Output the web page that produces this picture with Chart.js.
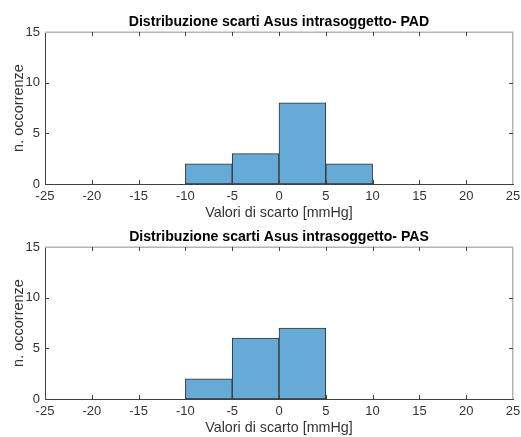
<!DOCTYPE html>
<html><head><meta charset="utf-8">
<script src="https://cdn.jsdelivr.net/npm/chart.js@4"></script>
<style>
html,body{margin:0;padding:0;background:#fff;}
#wrap{position:relative;width:521px;height:437px;overflow:hidden;background:#fff;}
canvas{position:absolute;left:0;}
</style>
</head><body>
<div id="wrap">
<canvas id="c1" width="521" height="222" style="top:0px"></canvas>
<canvas id="c2" width="521" height="222" style="top:215px"></canvas>
</div>
<script>
// ---- data ----
const padTitle = 'Distribuzione scarti Asus intrasoggetto- PAD';
const pasTitle = 'Distribuzione scarti Asus intrasoggetto- PAS';
const padBinCenters = [-7.5, -2.5, 2.5, 7.5];
const padCounts = [2, 3, 8, 2];
const pasBinCenters = [-7.5, -2.5, 2.5];
const pasCounts = [2, 6, 7];
const xTickValues = [-25, -20, -15, -10, -5, 0, 5, 10, 15, 20, 25];
const yTickValues = [0, 5, 10, 15];
const xLabel = 'Valori di scarto [mmHg]';
const yLabel = 'n. occorrenze';

const FONT = '"Liberation Sans", Arial, Helvetica, sans-serif';
const TICK_LEN = 4;

const framePlugin = {
  id: 'frame',
  afterDraw(chart) {
    const {ctx, chartArea: a, scales: {x, y}} = chart;
    ctx.save();
    // top and right box lines
    ctx.strokeStyle = '#b4b4b4';
    ctx.lineWidth = 1.5;
    ctx.beginPath();
    ctx.moveTo(a.left, a.top + 0.25);
    ctx.lineTo(a.right - 0.25, a.top + 0.25);
    ctx.lineTo(a.right - 0.25, a.bottom);
    ctx.stroke();
    // inward tick marks
    ctx.strokeStyle = '#404040';
    ctx.lineWidth = 1;
    ctx.beginPath();
    x.ticks.forEach(t => {
      const px = Math.round(x.getPixelForValue(t.value)) + 0.5;
      if (px <= a.left + 1 || px >= a.right - 1) return;
      ctx.moveTo(px, a.bottom); ctx.lineTo(px, a.bottom - TICK_LEN);
      ctx.moveTo(px, a.top); ctx.lineTo(px, a.top + TICK_LEN);
    });
    y.ticks.forEach(t => {
      const py = Math.round(y.getPixelForValue(t.value)) + 0.5;
      if (py <= a.top + 1 || py >= a.bottom - 1) return;
      ctx.moveTo(a.left, py); ctx.lineTo(a.left + TICK_LEN, py);
      ctx.moveTo(a.right, py); ctx.lineTo(a.right - TICK_LEN, py);
    });
    ctx.stroke();
    ctx.restore();
  }
};

function makeChart(id, title, centers, counts) {
  return new Chart(document.getElementById(id), {
    type: 'bar',
    data: {
      datasets: [{
        data: centers.map((c, i) => ({x: c, y: counts[i]})),
        backgroundColor: 'rgb(102,170,215)',
        borderColor: '#333333',
        borderWidth: 1,
        borderSkipped: false,
        barPercentage: 1,
        categoryPercentage: 1
      }]
    },
    options: {
      responsive: false,
      animation: false,
      devicePixelRatio: 1,
      layout: {padding: {left: 0, right: 8, top: 0, bottom: 0}},
      plugins: {
        legend: {display: false},
        tooltip: {enabled: false},
        title: {
          display: true,
          fullSize: false,
          text: title,
          color: '#000',
          font: {family: FONT, size: 14.1, weight: 'bold', lineHeight: 1.2},
          padding: {top: 13.5, bottom: 1.58}
        }
      },
      scales: {
        x: {
          type: 'linear',
          min: -25, max: 25,
          offset: false,
          z: 1,
          afterBuildTicks(s) { s.ticks = xTickValues.map(v => ({value: v})); },
          ticks: {
            color: '#333', font: {family: FONT, size: 13}, padding: 5,
            maxRotation: 0, autoSkip: false
          },
          grid: {display: false, drawTicks: false, offset: false},
          border: {display: true, color: '#404040', width: 1},
          title: {
            display: true, text: xLabel, color: '#333',
            font: {family: FONT, size: 14.3, lineHeight: 1.2},
            padding: {top: 0, bottom: 0.4}
          },
          afterFit(s) { s.height = 38; s.paddingLeft = 0; s.paddingRight = 0; }
        },
        y: {
          min: 0, max: 15,
          z: 1,
          afterBuildTicks(s) { s.ticks = yTickValues.map(v => ({value: v})); },
          ticks: {color: '#333', font: {family: FONT, size: 13}, padding: 5},
          grid: {display: false, drawTicks: false},
          border: {display: true, color: '#404040', width: 1},
          title: {
            display: true, text: yLabel, color: '#333',
            font: {family: FONT, size: 14.5, lineHeight: 1.2},
            padding: {top: 10, bottom: 0}
          },
          afterFit(s) { s.width = 45; s.paddingTop = 0; s.paddingBottom = 0; }
        }
      }
    },
    plugins: [framePlugin]
  });
}

makeChart('c1', padTitle, padBinCenters, padCounts);
makeChart('c2', pasTitle, pasBinCenters, pasCounts);
</script>
</body></html>
